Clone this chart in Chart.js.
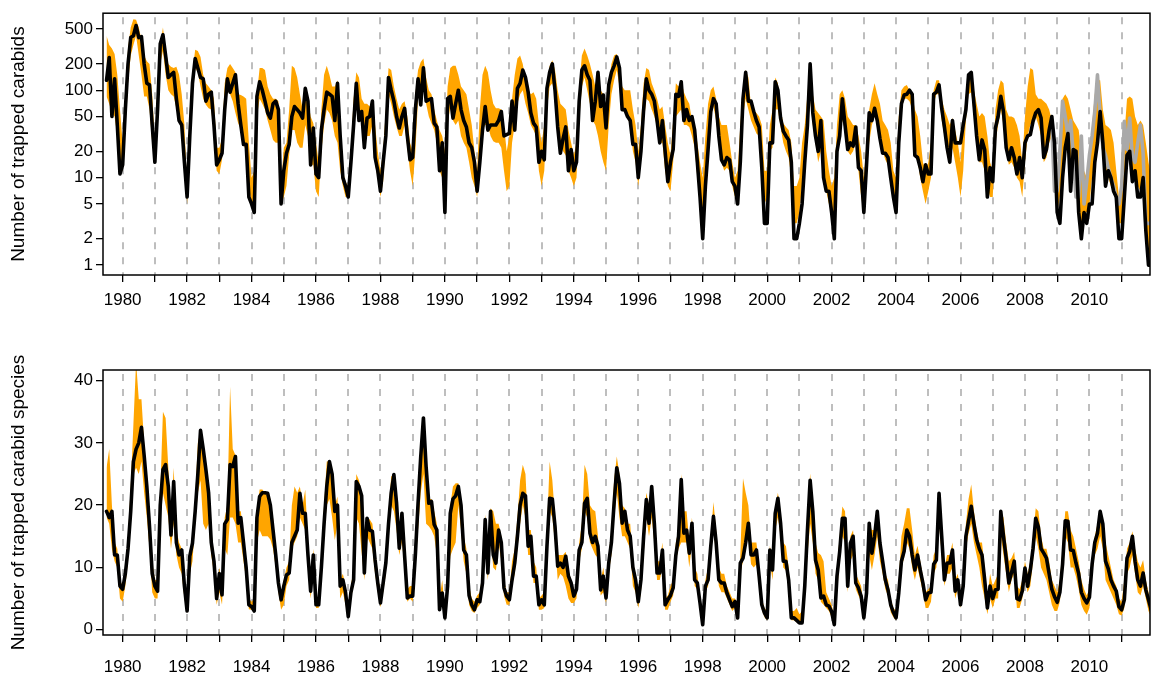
<!DOCTYPE html>
<html>
<head>
<meta charset="utf-8">
<script src="https://cdn.jsdelivr.net/npm/chart.js@4.4.1/dist/chart.umd.min.js"></script>
<style>
  body { margin: 0; background: #fff; }
  .panel { position: absolute; left: 0; width: 1152px; }
</style>
</head>
<body>
<div class="panel" style="top:0;height:340px"><canvas id="carabids" width="1152" height="340"></canvas></div>
<div class="panel" style="top:340px;height:341px"><canvas id="species" width="1152" height="341"></canvas></div>
<script>
// monthly samples, first one July 1979
const startYear = 1979;
const startMonth = 7;

const yearTicks = [1980, 1981, 1982, 1983, 1984, 1985, 1986, 1987, 1988, 1989, 1990,
  1991, 1992, 1993, 1994, 1995, 1996, 1997, 1998, 1999, 2000, 2001, 2002, 2003, 2004,
  2005, 2006, 2007, 2008, 2009, 2010, 2011];
const carabidTicks = [1, 2, 5, 10, 20, 50, 100, 200, 500];
const speciesTicks = [0, 10, 20, 30, 40];

// trapped carabids (top panel)
const carabidsMean = [
  130,237,50,135,40,11,14,60,200,400,420,550,400,410,200,120,115,40,15,60,340,430,250,140,150,160,80,45,40,15,6,30,120,230,180,140,135,75,90,95,40,14,16,19,60,135,95,120,150,70,40,24,24,6,5,4,85,125,100,75,55,48,70,75,60,
  5,12,19,24,50,65,60,55,48,105,75,14,37,11,10,35,60,95,90,85,45,120,30,10,8,6,15,40,120,45,57,22,48,50,75,17,12,7,15,30,140,100,75,50,37,50,62,30,16,17,60,135,68,180,75,78,80,42,38,12,25,4,80,85,48,
  70,100,60,45,38,25,22,15,7,15,35,65,35,40,40,40,45,57,30,31,32,75,35,105,120,170,140,95,55,42,38,15,20,16,105,160,200,100,38,19,28,38,12,21,12,15,75,170,190,150,130,45,75,160,65,88,37,115,160,190,240,180,60,60,50,
  45,24,24,10,20,60,135,100,90,75,45,25,45,20,9,15,21,90,85,125,45,60,45,50,35,15,6,2,8,21,57,80,70,30,16,14,17,16,9,8,5,15,80,160,75,75,57,45,38,13,3,3,25,25,125,100,48,34,30,27,15,2,2,3,5,
  15,40,200,55,30,20,45,10,7,7,4,2,20,30,80,40,21,25,23,38,13,12,4,14,55,45,62,45,28,19,19,17,10,6,4,25,70,88,90,100,90,18,17,13,9,14,11,11,90,95,115,62,38,22,15,45,25,25,25,40,60,150,160,70,30,16,
  27,21,6,13,9,37,50,85,57,22,16,22,17,11,17,10,25,30,31,44,55,60,48,17,21,35,50,25,4,3,10,22,32,7,21,20,4,2,4,3,5,5,15,25,57,25,8,12,10,7,6,2,2,6,18,20,9,12,6,6,10,2.5,1,1
];
const carabidsHigh = [
  420,330,300,260,150,60,25,70,300,520,650,640,520,380,250,215,200,90,25,120,320,520,300,200,185,180,185,150,90,40,8,60,160,290,280,240,150,120,110,100,80,22,22,28,120,180,200,180,160,90,88,85,80,25,10,12,90,180,180,170,110,90,80,80,75,
  8,22,25,60,190,180,140,90,60,110,80,50,42,25,15,60,150,190,150,110,110,130,50,12,9,8,20,80,160,140,80,70,70,65,80,40,20,12,20,60,180,170,110,80,60,70,75,50,25,20,90,170,210,230,140,100,90,60,45,35,30,20,110,180,190,
  190,150,110,100,90,60,40,20,12,60,150,190,160,100,70,62,62,60,40,20,30,80,150,230,250,200,130,100,90,95,80,40,25,40,120,190,220,170,100,70,65,60,35,25,18,25,110,250,300,250,200,150,110,160,100,90,60,120,200,250,260,190,110,100,100,
  100,60,40,20,40,120,180,170,120,100,80,60,65,40,25,18,45,120,110,130,95,80,70,45,40,25,15,10,30,70,100,110,80,50,40,40,40,25,15,10,12,40,110,170,140,65,60,55,50,40,12,12,40,60,140,120,60,42,38,35,25,8,8,10,25,
  40,90,200,90,60,55,50,45,20,12,8,10,40,90,100,80,50,45,40,40,30,20,10,25,60,90,120,90,70,45,40,35,25,12,10,50,100,110,115,100,90,60,50,30,15,12,15,25,100,130,130,80,60,50,40,48,35,25,15,40,90,150,140,100,70,50,
  55,50,30,15,12,60,100,130,120,60,50,50,48,40,30,15,50,110,180,170,90,80,80,75,70,60,45,30,12,30,80,90,80,60,45,40,35,20,12,10,20,40,90,130,130,60,40,38,35,25,12,6,8,30,80,85,80,50,40,45,40,25,15,10
];
const carabidsLow = [
  85,70,55,50,30,13,12,35,120,250,330,420,250,150,85,85,60,25,17,35,200,280,150,100,90,85,62,45,35,20,5,25,90,180,160,110,80,68,62,60,30,12,11,16,45,100,90,75,55,42,36,24,20,8,5,4,50,80,70,60,45,35,27,25,25,
  5,6,8,18,35,35,25,22,22,40,30,14,14,7,6,20,40,60,55,45,30,25,12,8,6,6,14,30,80,60,45,22,30,30,40,14,10,6,9,25,90,70,50,38,30,30,40,22,12,8,20,80,90,120,70,50,42,35,25,12,10,5,40,65,45,
  40,45,30,25,22,15,10,8,6,12,35,40,40,30,26,25,25,22,12,7,8,25,40,70,90,100,70,55,40,35,30,12,8,12,60,110,120,90,40,25,20,18,12,10,8,10,45,110,140,100,70,45,40,30,20,15,12,40,90,130,170,110,60,55,48,
  40,20,15,8,15,40,80,75,60,50,38,25,25,12,8,7,15,50,55,60,40,40,38,30,22,10,5,3,10,22,50,65,45,25,15,12,13,12,8,6,6,15,50,80,60,45,38,32,30,12,5,6,20,22,60,60,38,25,20,17,10,3,3,4,8,
  12,30,80,40,25,15,20,10,7,5,4,2,15,30,45,35,20,18,20,25,12,6,4,10,25,40,50,40,30,20,16,14,10,6,4,20,60,80,80,75,60,25,16,10,7,5,7,10,70,90,90,45,30,18,14,22,15,10,6,12,45,90,95,50,25,15,
  15,12,8,6,6,25,40,60,40,20,14,15,13,10,9,6,15,30,40,45,50,40,30,15,17,25,30,8,4,6,12,25,25,10,15,10,4,3,4,4,5,10,15,30,40,18,10,10,8,7,5,3,3,8,20,20,10,12,8,7,10,3,1.5,1
];
// grey series, only for the last years (starts at sample 352)
const carabidsAltStart = 352;
const carabidsAlt = [
  40,7,7,20,75,50,30,45,18,6,6,30,5,9,18,30,57,150,50,22,18,13,10,8,6,5,8,44,21,48,17,15,25,40,19,3,3,3
];

// trapped carabid species (bottom panel)
const speciesMean = [
  19,18,19,12,12,7,6.5,9,13,19,27,29,30,32.5,28,23,16.6,9,7,6.2,20,25.7,26.5,23,15.2,23.8,14,12,12.8,7,3,11.8,13.9,19,25,32,29,25.7,22,14,11,5,9,5.6,17,17.7,26.5,26.2,27.8,17.1,18,14,9.9,4,3.7,3,18,21.4,22,22,21.9,20,16,12,7.5,
  4.8,7,8.8,9.1,14,15,16,21.9,18.7,18.7,12,6.2,12,4,4,10,17,23,27,25,19,20,7,8,6,2.1,6,8,23.8,23,21.5,9.1,17.9,16,15.8,11.2,7.5,4.3,7.5,10.7,17,22,24.9,20.3,13.1,18.7,11.8,5.1,5.4,5.4,12,20.3,27.8,34,26.2,20.3,20.6,16.9,16,3.2,5.9,1.9,7,18.7,21,
  21.5,23,20,12.8,12,5.5,4,3.2,4.8,4.5,7.5,17.7,9.1,19,12,10.7,16,14,6.7,5.4,4.8,8,10.7,15,20,21.9,21.5,13.4,15,8.6,8.6,4,4.8,4,13.4,21.1,21,16.6,10.2,10.7,10,11.8,8.6,7.5,5.4,6.5,12.8,14,20.3,21.1,15.5,14,15,13.4,6.4,8.6,5.1,10.7,14,20.3,26,23.5,17.1,19,16,
  15,10,8,4.5,8,15,20.9,17.1,23,17,9.1,9.1,12.8,4,4.8,5.5,6.7,12,15,24.1,15.5,16,12.3,17.1,8,7.5,4.3,0.8,7,8,13.4,18.2,14,8,7.5,7.5,5.9,4.8,3.7,4.5,1.9,10.7,11.5,14,17.1,12,12,12.8,8.6,4,2.7,1.9,12.8,9.6,18.7,21.1,17.1,11,11,8,1.9,1.9,1.5,1.1,1.1,
  7,16,24,19,11.2,9.6,5.1,5.4,4,3.8,2.9,0.8,8.6,12.5,17.9,17.9,7,13.9,15,7.5,6.7,5.4,1.9,5.9,17.1,12.3,15,19,13.9,11,8,6.4,4,2.8,1.9,5.9,11,12.6,16,15,12,9.6,12,9.6,7.5,4.8,5.9,6,10.5,11.2,21.9,15,8,10.7,10.7,12.8,6.2,8,4,7,15,17.5,19.8,17,14.5,13,
  12,8,3.5,7,5,6.4,6.5,19,15,11.5,7.5,9.2,11,5,4.8,6.2,9.9,7,9.6,13,17.9,16.5,13,12.3,11.5,9,6.5,5.3,4.4,6,10.5,17.5,17.4,12.8,12.7,10.7,9,6,5,4.3,5.2,10.5,14,15.5,19,17,11,9.8,8,7,6.2,3.7,3.2,4.8,11.5,12.6,15,11,8,7,9.1,6.4,4.8,3.2
];
const speciesHigh = [
  26,29,20,14,13,8,7,10,15,23,33,43,37,37,30,24,18,11,8,8,22,35,34,26,18,26,16,14,13,8,4,12,15,21,30,32,30,27,23,16,12,6,10,7,18,20,39,29,28,19,19,15,11,5,4.5,5,19,22.5,22.5,22,22,21,18,13,9,
  6,8,10,11,20,23,22,23,20,22.5,14,8,13,5,5,12,20,27,27,26,20,21.4,8,9,7,3,7,10,25,24,22,12,18,17.7,17,13,9,6,8,12,19,24.6,25,22,15,19,13,6.5,7,7,14,22,29,30,28,21,21,19,17,5,8,3,9,20,23,
  23.5,23.5,21,15,13,7,5,4.5,5.5,6,9,18.5,13,19.5,19,17,17,15,8,6,6,11,13,18,24,26.5,25,16,16,11,10,5,5.5,6,16,27,24,18,12,12,12,12.5,9.5,8,6,7,14,17,26.5,25,20,19.3,19,15,8,10,6,12,16,24,27.8,25,20,19.5,17,
  17,11,9,5,10,17,22,20,23,19,11,11,14,5,5.5,7,8,14,16,25,19,19,14,18,10,9,5,1.5,8,10,15,20.5,16,10,9,9,7,6,5,5,3,12,24.3,22,20,14,14,14,10,5,3.5,3,13.5,11,19.5,22,19,14,13.4,10,3,3,3.5,2.5,3,
  8,18,25.1,20,14,12.3,12,11,6,5,4,2,10,15,19.8,19,9,15,16,9,8,7,3,8,17,16,16,19,15,12,9,8,5,3.5,3,8,15,17,19.5,19.5,16,12,13.5,11,8.5,6,6.5,7,12,13,21,17,10,12,12,14,8,9,5,9,17,21,23.3,19,16,14,
  14,10,5,9,7,8,9,19,18,14,11,11.5,12.5,7,6.5,8,11,9,11,15,19.5,19,15,13,13,11,8,7,6,8,13,19,19,16,15,13,11,8,6.5,5.5,6.5,12,15,17,19,18,14,12,10,8,7,5,4.5,8,13,14,15.8,13,11,10,11.2,8,6,4
];
const speciesLow = [
  18,17,13,11,10,5,4.5,7,11,18,25,26,25,27,22,18,13,6,5,5,18,22,20,18,13,17,12,10,9,5,2.7,9,11,17,22,24,17,16,17,12,9,4,6,4,13,12,18,18,17,14,14,11,8,3.3,3.2,3,14,16,15,15,15,14.5,13,10,6,
  3.2,4,7,8,13,14,15,18,17,16,10,5,9,3.5,3.5,9,15,20,21,18,14.4,17,5,6,4,1.8,5,7,18,17,12.3,8,15,14,13,9,6,3.6,6,9,16,20,19,16,12,14,10,4.5,5,4.5,10,16,22,25,17,16.6,16,15,12,3,5,1.5,6,11.8,13,
  14,20,16,11,9,4,3,2.7,3.5,4,6,13,8,15,10,9.5,14,11,5.5,4,4,7,9,13,17,20,18,12,12,7.5,7.5,3.2,3.2,3.5,12,19,18,14,8,9,8.5,7,5,4.3,4.3,5,11,13,19,18,14,13,12,11.5,5.5,6,4.3,9,12,18,22,18,15,15,14,
  13,7,6,3.5,6,12,18,15,18,14,8,8,10,3.2,3.2,4.5,5.5,11,13,14,14,14,10,14,7,6.5,3.5,0.5,6,7,12,16,12,7,6,6,5,4,3,3.5,1.5,9,11,13,15,10.5,10,10.5,7,3.2,2,1.5,11,8,16,18,15,10,9.5,6.5,1.5,1.5,1.2,1,1,
  5,12,17,14,9,8,4.5,4,3.5,3,2,0.8,6,11,15,14,6,11,12,6.5,5.5,4.5,1.5,5,12,9.6,12,15,11,9,6.5,5.5,2.8,2,1.5,5,10,11.5,14,13,10,8,10,8,6,3.5,3.5,4.5,9,10,17,12,7,9,9,10,5,6.5,3.5,6,13,15.5,17,14,12,10,
  7,5,2.5,5,3.5,5,5,15,12,9,6,8,9,3.5,3.5,5,8,6,7,11,15,13,10,9,8,6,4,3,3,4.5,9,15,14,10,10,8.5,6.5,4,3,2.4,3.5,9,12,13,15,13,8,7,6,5,4,2.5,2.3,3.5,9,10,12,9,6,5.5,7,5,3,2
];

// decimal year of every sample
const months = carabidsMean.map((_, i) => startYear + (startMonth - 1) / 12 + i / 12);

function toPoints(values, offset) {
  offset = offset || 0;
  return values.map((v, i) => ({ x: months[i + offset], y: v }));
}

Chart.defaults.font.family = "'Liberation Sans', Arial, sans-serif";
Chart.defaults.font.size = 17;
Chart.defaults.color = '#000';

// box round the plot + grey dashed line at every year
const framePlugin = {
  id: 'frame',
  beforeDatasetsDraw(chart) {
    const { ctx, chartArea: a, scales: { x } } = chart;
    ctx.save();
    ctx.strokeStyle = '#BEBEBE';
    ctx.lineWidth = 2;
    ctx.setLineDash([7, 8]);
    yearTicks.forEach(yr => {
      const px = Math.round(x.getPixelForValue(yr));
      ctx.beginPath();
      ctx.moveTo(px, a.top + 4);
      ctx.lineTo(px, a.bottom);
      ctx.stroke();
    });
    ctx.restore();
  },
  afterDraw(chart) {
    const { ctx, chartArea: a } = chart;
    ctx.save();
    ctx.strokeStyle = '#000';
    ctx.lineWidth = 1.5;
    ctx.strokeRect(a.left, a.top, a.right - a.left, a.bottom - a.top);
    ctx.restore();
  }
};

function makePanel(id, cfg) {
  const datasets = [{
    data: toPoints(cfg.mean), borderColor: '#000', borderWidth: 3.6, order: 0
  }];
  if (cfg.alt) {
    datasets.push({ data: toPoints(cfg.alt, cfg.altStart), borderColor: '#A9A9A9', borderWidth: 3.6, order: 1 });
  }
  datasets.push({
    data: toPoints(cfg.high), borderColor: 'rgba(0,0,0,0)', borderWidth: 0,
    backgroundColor: '#FFA500', fill: '+1', order: 2
  });
  datasets.push({
    data: toPoints(cfg.low), borderColor: 'rgba(0,0,0,0)', borderWidth: 0, fill: false, order: 3
  });

  new Chart(document.getElementById(id), {
    type: 'line',
    data: { datasets: datasets },
    plugins: [framePlugin],
    options: {
      responsive: false,
      devicePixelRatio: 1,
      animation: false,
      parsing: false,
      clip: 0,
      layout: { padding: { top: cfg.padTop, right: 2, left: 0, bottom: 0 } },
      elements: {
        point: { radius: 0 },
        line: { tension: 0, borderJoinStyle: 'round', borderCapStyle: 'round' }
      },
      plugins: { legend: { display: false }, tooltip: { enabled: false } },
      scales: {
        x: {
          type: 'linear',
          min: 1979.39,
          max: 2011.88,
          afterBuildTicks: s => { s.ticks = yearTicks.map(v => ({ value: v })); },
          afterFit: s => { s.height = cfg.xHeight; },
          grid: { drawOnChartArea: false, color: '#000', lineWidth: 1.3, tickLength: 7 },
          border: { display: false },
          ticks: {
            autoSkip: false, maxRotation: 0, padding: cfg.xPad,
            callback: v => (v % 2 === 0 ? String(v) : '')
          }
        },
        y: {
          type: cfg.yType,
          min: cfg.yMin,
          max: cfg.yMax,
          afterBuildTicks: s => { s.ticks = cfg.yTicks.map(v => ({ value: v })); },
          afterFit: s => { s.width = 103; },
          grid: { drawOnChartArea: false, color: '#000', lineWidth: 1.3, tickLength: 7 },
          border: { display: false },
          ticks: { autoSkip: false, padding: 3, callback: v => String(v) },
          title: { display: true, text: cfg.title, font: { size: 19 }, padding: { top: 7, bottom: 0 } }
        }
      }
    }
  });
}

makePanel('carabids', {
  mean: carabidsMean, high: carabidsHigh, low: carabidsLow,
  alt: carabidsAlt, altStart: carabidsAltStart,
  yType: 'logarithmic', yMin: 0.77, yMax: 760, yTicks: carabidTicks,
  title: 'Number of trapped carabids',
  padTop: 10, xHeight: 65, xPad: 8
});

makePanel('species', {
  mean: speciesMean, high: speciesHigh, low: speciesLow,
  yType: 'linear', yMin: -0.85, yMax: 41.7, yTicks: speciesTicks,
  title: 'Number of trapped carabid species',
  padTop: 30, xHeight: 46, xPad: 15
});
</script>
</body>
</html>
